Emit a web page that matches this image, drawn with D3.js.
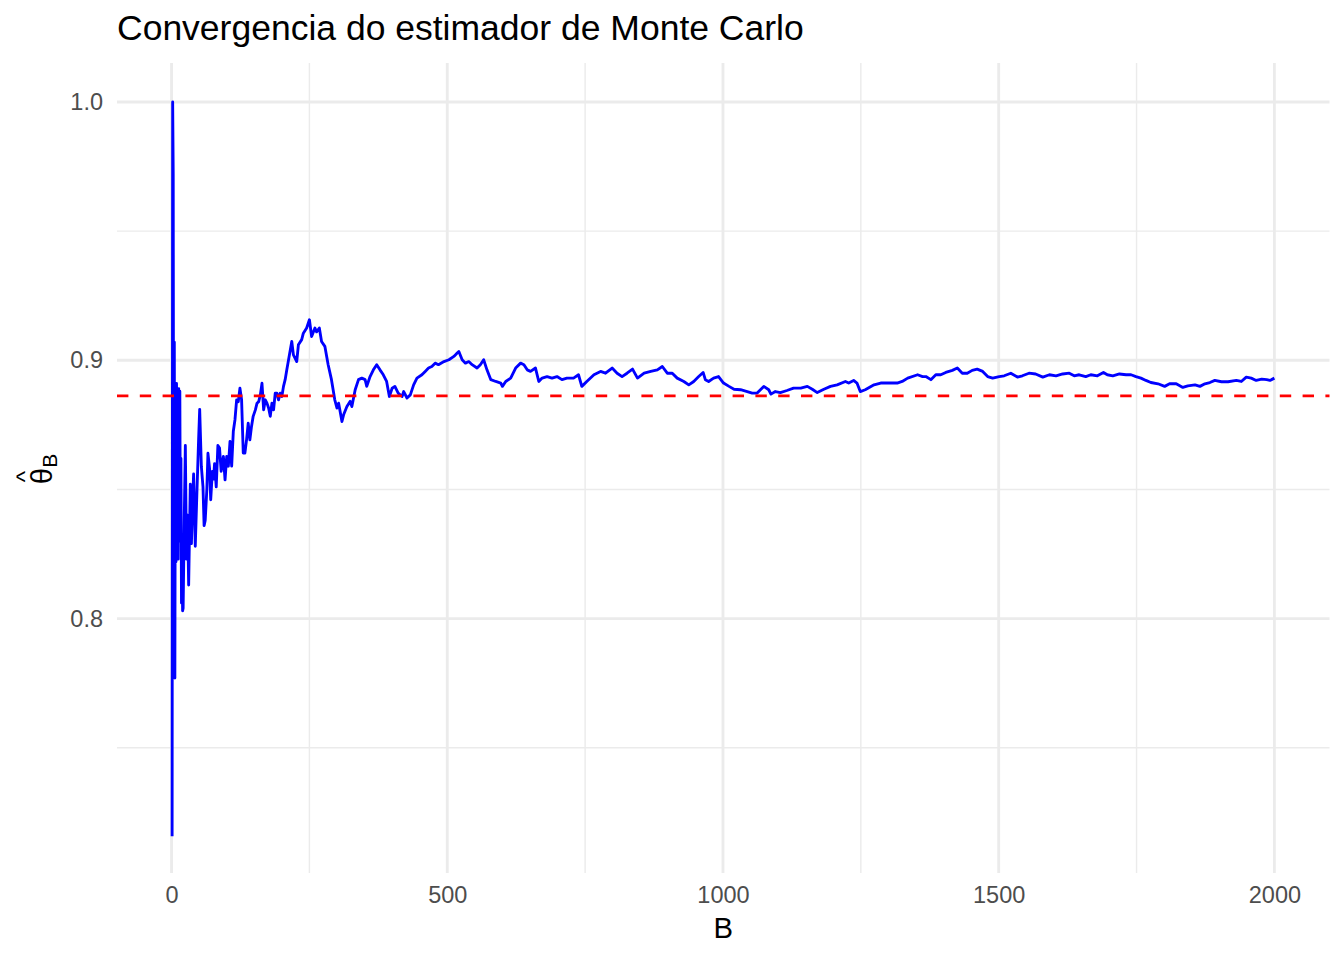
<!DOCTYPE html>
<html>
<head>
<meta charset="utf-8">
<script src="https://cdn.jsdelivr.net/npm/d3@7"></script>
<style>
  body { margin: 0; background: #fff; }
  svg { display: block; font-family: "Liberation Sans", Arial, sans-serif; }
</style>
</head>
<body>
<svg id="chart"></svg>
<script>
// values
const bValues = [1, 2, 3, 4, 5, 6, 7, 8, 9, 10, 11, 12, 13, 14, 15, 16, 17, 18, 19, 20,
  21, 23, 25, 27, 29, 31, 34, 36, 38, 40, 43, 46, 49, 51, 54, 57, 59, 61, 64, 66,
  69, 71, 74, 76, 78, 81, 84, 87, 90, 94, 97, 100, 103, 106, 109, 112, 115, 118, 121, 124,
  127, 130, 133, 136, 139, 142, 145, 148, 152, 155, 158, 161, 164, 167, 170, 173, 176, 179, 182, 185,
  188, 191, 194, 197, 200, 203, 206, 209, 218, 221, 227, 230, 236, 239, 245, 250, 254, 260, 263, 268,
  272, 278, 284, 290, 296, 300, 303, 309, 312, 318, 324, 327, 333, 339, 345, 351, 354, 360, 366, 372,
  378, 384, 390, 395, 400, 405, 411, 418, 421, 427, 433, 439, 445, 454, 460, 466, 472, 478, 484, 494,
  503, 512, 518, 521, 527, 533, 539, 545, 554, 560, 566, 572, 579, 588, 597, 600, 606, 615, 624, 633,
  639, 645, 651, 660, 666, 672, 681, 690, 699, 708, 717, 729, 738, 744, 753, 766, 778, 787, 799, 808,
  817, 826, 836, 845, 857, 869, 881, 890, 899, 908, 917, 929, 938, 947, 956, 964, 968, 974, 983, 992,
  1001, 1011, 1020, 1032, 1044, 1053, 1062, 1074, 1083, 1087, 1095, 1104, 1116, 1128, 1141, 1153, 1162, 1171, 1183, 1195,
  1207, 1222, 1228, 1237, 1243, 1249, 1258, 1274, 1286, 1301, 1316, 1325, 1335, 1353, 1362, 1368, 1377, 1386, 1395, 1404,
  1416, 1425, 1434, 1443, 1452, 1461, 1471, 1480, 1489, 1501, 1510, 1522, 1534, 1543, 1555, 1567, 1580, 1592, 1604, 1616,
  1628, 1637, 1646, 1658, 1667, 1679, 1690, 1697, 1707, 1719, 1731, 1740, 1749, 1758, 1767, 1776, 1789, 1801, 1810, 1822,
  1834, 1843, 1856, 1865, 1874, 1883, 1892, 1904, 1916, 1931, 1940, 1949, 1958, 1967, 1977, 1986, 1992, 2000];

const thetaValues = [0.7157, 1.000, 0.972, 0.780, 0.907, 0.777, 0.890, 0.822, 0.891, 0.830, 0.875, 0.823, 0.889, 0.845, 0.888, 0.830, 0.862, 0.806, 0.826, 0.803,
  0.804, 0.838, 0.867, 0.823, 0.840, 0.813, 0.852, 0.829, 0.845, 0.856, 0.828, 0.849, 0.869, 0.881, 0.859, 0.851, 0.836, 0.838, 0.850, 0.864,
  0.858, 0.846, 0.857, 0.854, 0.860, 0.851, 0.867, 0.866, 0.857, 0.8628, 0.8537, 0.8628, 0.859, 0.8686, 0.859, 0.8725, 0.877, 0.8847, 0.884, 0.8892,
  0.8847, 0.8641, 0.8641, 0.8692, 0.8757, 0.8692, 0.8744, 0.8783, 0.8808, 0.8834, 0.884, 0.8866, 0.8911, 0.8808, 0.8847, 0.8834, 0.8815, 0.8783, 0.8834, 0.8808,
  0.8873, 0.8873, 0.8847, 0.8873, 0.886, 0.8899, 0.8925, 0.8963, 0.9073, 0.9021, 0.8995, 0.906, 0.908, 0.9105, 0.9125, 0.9157, 0.9092, 0.9125, 0.911, 0.9125,
  0.9073, 0.9054, 0.8983, 0.8925, 0.8847, 0.8815, 0.8834, 0.8763, 0.8789, 0.8821, 0.8841, 0.8821, 0.8886, 0.8925, 0.8931, 0.8925, 0.8899, 0.8937, 0.8963, 0.8983,
  0.8963, 0.8944, 0.8918, 0.886, 0.8892, 0.8899, 0.8873, 0.886, 0.8879, 0.8854, 0.8866, 0.8905, 0.8931, 0.8944, 0.8957, 0.897, 0.8976, 0.8989, 0.8983, 0.8995,
  0.9002, 0.9015, 0.9028, 0.9034, 0.9002, 0.8989, 0.8995, 0.8983, 0.897, 0.8983, 0.9002, 0.8963, 0.8925, 0.8918, 0.8912, 0.8899, 0.8918, 0.8931, 0.897, 0.8989,
  0.8983, 0.8963, 0.8957, 0.897, 0.8918, 0.8931, 0.8937, 0.8931, 0.8937, 0.8925, 0.8931, 0.8931, 0.8944, 0.8899, 0.8918, 0.8944, 0.8957, 0.895, 0.897, 0.895,
  0.8937, 0.895, 0.8966, 0.8931, 0.895, 0.8957, 0.8963, 0.8976, 0.895, 0.895, 0.8931, 0.8918, 0.8905, 0.8918, 0.8937, 0.8953, 0.8925, 0.8918, 0.8931, 0.8937,
  0.8912, 0.8899, 0.8888, 0.8886, 0.8879, 0.8873, 0.8873, 0.8899, 0.8886, 0.8869, 0.8879, 0.8875, 0.8883, 0.8892, 0.8892, 0.8899, 0.8888, 0.8875, 0.8888, 0.8899,
  0.8905, 0.8918, 0.8912, 0.8922, 0.8912, 0.8879, 0.8886, 0.8905, 0.8912, 0.8912, 0.8912, 0.8918, 0.8931, 0.8944, 0.8937, 0.8937, 0.8925, 0.8944, 0.8944, 0.8953,
  0.8961, 0.897, 0.895, 0.895, 0.8961, 0.8966, 0.8957, 0.8937, 0.8931, 0.8937, 0.894, 0.895, 0.8935, 0.894, 0.895, 0.8947, 0.8935, 0.8944, 0.894, 0.8947,
  0.895, 0.894, 0.8944, 0.8937, 0.8944, 0.894, 0.8953, 0.8944, 0.894, 0.8947, 0.8944, 0.8944, 0.8937, 0.8931, 0.8922, 0.8914, 0.8909, 0.8899, 0.8909, 0.8909,
  0.8895, 0.8901, 0.8905, 0.8899, 0.8909, 0.8914, 0.8922, 0.8917, 0.8917, 0.8922, 0.8918, 0.8935, 0.8931, 0.8922, 0.8927, 0.8925, 0.8922, 0.8931];

const trueValue = Math.sqrt(Math.PI) / 2;   // dashed reference line
const xMajorTicks = [0, 500, 1000, 1500, 2000];
const xMinorTicks = [250, 750, 1250, 1750];
const yMajorTicks = [0.8, 0.9, 1.0];
const yMinorTicks = [0.75, 0.85, 0.95];
const titleText = "Convergencia do estimador de Monte Carlo";
const xTitle = "B";

const width = 1344, height = 960;
const panel = { left: 117, right: 1329.5, top: 63, bottom: 873 };

const svg = d3.select("#chart").attr("width", width).attr("height", height);

const data = bValues.map((b, i) => ({ B: b, theta: thetaValues[i] }));

// ggplot style 5% expansion on x
const scaleX = d3.scaleLinear()
  .domain([1 - 0.05 * 1999, 2000 + 0.05 * 1999])
  .range([panel.left, panel.right]);

const scaleY = d3.scaleLinear()
  .domain([0.7015, 1.0151])
  .range([panel.bottom, panel.top]);

// grid
const grid = svg.append("g");
grid.selectAll(".ymin").data(yMinorTicks).join("line")
  .attr("x1", panel.left).attr("x2", panel.right)
  .attr("y1", d => scaleY(d)).attr("y2", d => scaleY(d))
  .attr("stroke", "#ebebeb").attr("stroke-width", 1.42);
grid.selectAll(".xmin").data(xMinorTicks).join("line")
  .attr("y1", panel.top).attr("y2", panel.bottom)
  .attr("x1", d => scaleX(d)).attr("x2", d => scaleX(d))
  .attr("stroke", "#ebebeb").attr("stroke-width", 1.42);
grid.selectAll(".ymaj").data(yMajorTicks).join("line")
  .attr("x1", panel.left).attr("x2", panel.right)
  .attr("y1", d => scaleY(d)).attr("y2", d => scaleY(d))
  .attr("stroke", "#ebebeb").attr("stroke-width", 2.85);
grid.selectAll(".xmaj").data(xMajorTicks).join("line")
  .attr("y1", panel.top).attr("y2", panel.bottom)
  .attr("x1", d => scaleX(d)).attr("x2", d => scaleX(d))
  .attr("stroke", "#ebebeb").attr("stroke-width", 2.85);

// the running estimate
const line = d3.line()
  .x(d => scaleX(d.B))
  .y(d => scaleY(d.theta));

svg.append("path")
  .datum(data)
  .attr("fill", "none")
  .attr("stroke", "#0000ff")
  .attr("stroke-width", 2.85)
  .attr("stroke-linejoin", "round")
  .attr("d", line);

// reference value
svg.append("line")
  .attr("x1", panel.left).attr("x2", panel.right)
  .attr("y1", scaleY(trueValue)).attr("y2", scaleY(trueValue))
  .attr("stroke", "#ff0000")
  .attr("stroke-width", 2.85)
  .attr("stroke-dasharray", "11.4,11.4");

// axes (no ticks, no domain, like theme_minimal)
svg.append("g")
  .attr("transform", `translate(0,${panel.bottom})`)
  .call(d3.axisBottom(scaleX).tickValues(xMajorTicks).tickSize(0).tickPadding(0).tickFormat(d3.format("d")))
  .call(g => g.select(".domain").remove())
  .call(g => g.selectAll("text")
    .attr("dy", null).attr("y", 30)
    .attr("fill", "#4d4d4d")
    .style("font-size", "23.5px")
    .style("font-family", "'Liberation Sans', Arial, sans-serif"));

svg.append("g")
  .attr("transform", `translate(${panel.left},0)`)
  .call(d3.axisLeft(scaleY).tickValues(yMajorTicks).tickSize(0).tickPadding(14).tickFormat(d3.format(".1f")))
  .call(g => g.select(".domain").remove())
  .call(g => g.selectAll("text")
    .attr("fill", "#4d4d4d")
    .style("font-size", "23.5px")
    .style("font-family", "'Liberation Sans', Arial, sans-serif"));

// title
svg.append("text")
  .attr("x", panel.left)
  .attr("y", 40)
  .attr("fill", "#000")
  .style("font-size", "35.5px")
  .text(titleText);

// x axis title
svg.append("text")
  .attr("x", (panel.left + panel.right) / 2)
  .attr("y", 938)
  .attr("text-anchor", "middle")
  .attr("fill", "#000")
  .style("font-size", "29.3px")
  .text(xTitle);

// y axis title: theta hat with subscript B
const yLab = svg.append("g")
  .attr("transform", `translate(52,${(panel.top + panel.bottom) / 2}) rotate(-90)`);
const yText = yLab.append("text")
  .attr("x", -1)
  .attr("text-anchor", "middle")
  .attr("fill", "#000")
  .style("font-size", "29.3px");
yText.append("tspan").text("θ");
yText.append("tspan")
  .attr("dy", 5)
  .style("font-size", "21px")
  .text("B");
yLab.append("text")
  .attr("x", -8.5)
  .attr("y", -19)
  .attr("text-anchor", "middle")
  .attr("fill", "#000")
  .style("font-size", "24px")
  .text("^");
</script>
</body>
</html>
